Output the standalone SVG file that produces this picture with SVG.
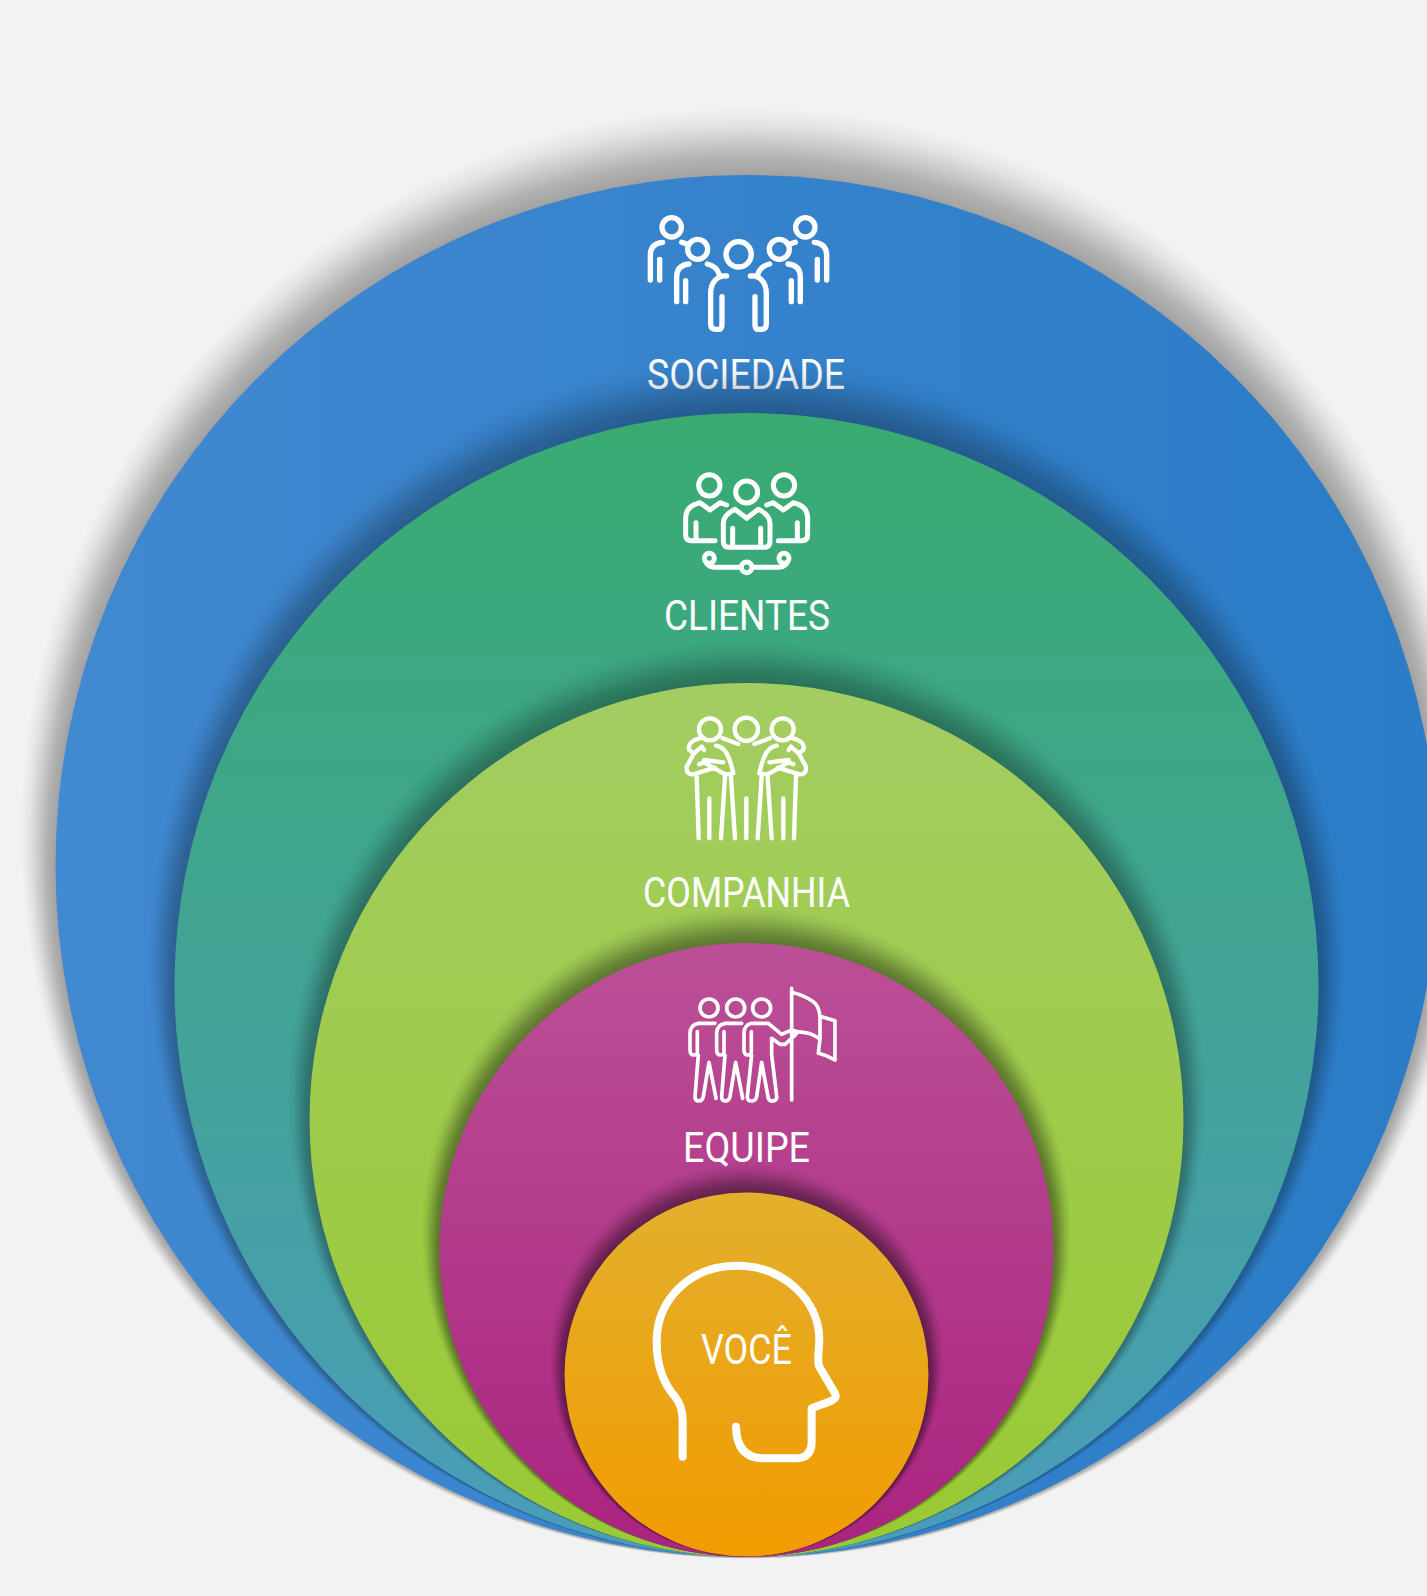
<svg xmlns="http://www.w3.org/2000/svg" width="1427" height="1596" viewBox="0 0 1427 1596">
<style>
.i{fill:none;stroke:#fff;stroke-linecap:round;stroke-linejoin:round}
.t{fill:#fff;font-family:"Roboto","Liberation Sans",sans-serif;font-size:43px;font-weight:400}
.s0{stop-color:#000;stop-opacity:1}
.s1{stop-color:#000;stop-opacity:.8}
.s2{stop-color:#000;stop-opacity:.48}
.s3{stop-color:#000;stop-opacity:.18}
.s4{stop-color:#000;stop-opacity:0}
</style>
<defs>
<linearGradient id="gb" x1="0" x2="1" y1="0" y2="0"><stop offset="0" stop-color="#4189d1"/><stop offset="1" stop-color="#2a7cc7"/></linearGradient>
<linearGradient id="gg" x1="0" x2="0" y1="0" y2="1"><stop offset="0" stop-color="#39ab71"/><stop offset="1" stop-color="#4a9cba"/></linearGradient>
<linearGradient id="gl" x1="0" x2="0" y1="0" y2="1"><stop offset="0" stop-color="#a3cd62"/><stop offset="1" stop-color="#99ca33"/></linearGradient>
<linearGradient id="gm" x1="0" x2="0" y1="0" y2="1"><stop offset="0" stop-color="#bb5096"/><stop offset="1" stop-color="#aa2380"/></linearGradient>
<linearGradient id="go" x1="0" x2="0" y1="0" y2="1"><stop offset="0" stop-color="#e3b02d"/><stop offset="1" stop-color="#f19b00"/></linearGradient>
<radialGradient id="sh1" gradientUnits="userSpaceOnUse" cx="746.500" cy="833" r="726" fx="746.500" fy="866" fr="691"><stop offset="0" class="s0"/><stop offset=".25" class="s1"/><stop offset=".5" class="s2"/><stop offset=".75" class="s3"/><stop offset="1" class="s4"/></radialGradient>
<radialGradient id="sh2" gradientUnits="userSpaceOnUse" cx="746.500" cy="958" r="599" fx="746.500" fy="985" fr="572"><stop offset="0" class="s0"/><stop offset=".25" class="s1"/><stop offset=".5" class="s2"/><stop offset=".75" class="s3"/><stop offset="1" class="s4"/></radialGradient>
<radialGradient id="sh3" gradientUnits="userSpaceOnUse" cx="746.500" cy="1098" r="459" fx="746.500" fy="1120" fr="437"><stop offset="0" class="s0"/><stop offset=".25" class="s1"/><stop offset=".5" class="s2"/><stop offset=".75" class="s3"/><stop offset="1" class="s4"/></radialGradient>
<radialGradient id="sh4" gradientUnits="userSpaceOnUse" cx="746.500" cy="1232" r="325" fx="746.500" fy="1250" fr="307"><stop offset="0" class="s0"/><stop offset=".25" class="s1"/><stop offset=".5" class="s2"/><stop offset=".75" class="s3"/><stop offset="1" class="s4"/></radialGradient>
<radialGradient id="sh5" gradientUnits="userSpaceOnUse" cx="746.500" cy="1360" r="197" fx="746.500" fy="1374.500" fr="182"><stop offset="0" class="s0"/><stop offset=".25" class="s1"/><stop offset=".5" class="s2"/><stop offset=".75" class="s3"/><stop offset="1" class="s4"/></radialGradient>
<g id="p1"><circle cx="155" cy="82" r="29"/><path d="M128,127C100,130 91,145 91,165L91,240M119,178L119,240"/><circle cx="233" cy="148" r="30"/><path d="M185,127L207,134M207,192C180,195 170,210 170,230L170,305M197,242L197,305M262,192C282,197 293,208 297,222M320,228C290,225 272,250 272,280L272,372Q272,388 288,388L300,388Q306,385 306,372L306,290"/></g>
<g id="p2"><circle cx="148" cy="76" r="32"/><path d="M200,135L180,128L150,150L120,128L105,133Q77,145 77,175L77,225Q77,242 95,242L165,242M108,188L108,240"/><circle cx="148" cy="295" r="15"/><path d="M140,310Q150,322 165,322L240,322"/></g>
<g id="p3"><circle cx="240" cy="73" r="33"/><path d="M325,117L278,100M210,100C185,105 172,120 178,135L192,145L170,185Q168,210 190,208L255,188M258,122C285,127 298,150 310,205L285,208L222,172L208,178M222,165L280,172M192,145L215,125L222,135M200,215L206,400M238,280L238,400M285,215L273,400M303,215L315,400"/></g>
<g id="p4"><circle cx="117" cy="99" r="27"/><path d="M135,145L85,145Q60,150 60,175L60,225Q60,240 72,240Q82,240 82,230L82,170M85,240L75,365Q75,378 87,378Q97,378 100,365L117,262L138,370"/></g>
</defs>
<rect width="1427" height="1596" fill="#f2f2f2"/>
<g id="sociedade">
<circle cx="746.500" cy="833" r="726" fill="url(#sh1)" opacity=".33"/>
<circle cx="746.500" cy="866" r="691" fill="url(#gb)"/>
<g class="i" stroke-width="16" transform="translate(620 200) scale(.3333)"><use href="#p1"/><use href="#p1" transform="translate(711 0) scale(-1 1)"/><circle cx="356" cy="163" r="38"/></g>
<text class="t" x="647" y="389" textLength="198" lengthAdjust="spacingAndGlyphs">SOCIEDADE</text>
</g>
<g id="clientes">
<circle cx="746.500" cy="958" r="599" fill="url(#sh2)" opacity=".3"/>
<circle cx="746.500" cy="985" r="572" fill="url(#gg)"/>
<g class="i" stroke-width="15" transform="translate(660 460) scale(.3333)"><use href="#p2"/><use href="#p2" transform="translate(520 0) scale(-1 1)"/><circle cx="260" cy="96" r="33"/><path d="M260,175L225,148Q190,165 190,190L190,245Q190,262 210,262L310,262Q330,262 330,245L330,190Q330,165 295,148ZM218,205L218,258M302,205L302,258"/><circle cx="260" cy="322" r="16"/></g>
<text class="t" x="664" y="630" textLength="166" lengthAdjust="spacingAndGlyphs">CLIENTES</text>
</g>
<g id="companhia">
<circle cx="746.500" cy="1098" r="459" fill="url(#sh3)" opacity=".32"/>
<circle cx="746.500" cy="1120" r="437" fill="url(#gl)"/>
<g class="i" stroke-width="13" transform="translate(630 705) scale(.3333)"><use href="#p3"/><use href="#p3" transform="translate(698 0) scale(-1 1)"/><circle cx="349" cy="73" r="35"/><path d="M349,280L349,400"/></g>
<text class="t" x="643" y="907" textLength="207" lengthAdjust="spacingAndGlyphs">COMPANHIA</text>
</g>
<g id="equipe">
<circle cx="746.500" cy="1232" r="325" fill="url(#sh4)" opacity=".42"/>
<circle cx="746.500" cy="1250" r="307" fill="url(#gm)"/>
<g class="i" stroke-width="11" transform="translate(670 975) scale(.3333)"><use href="#p4"/><use href="#p4" transform="translate(80 0)"/><circle cx="275" cy="99" r="27"/><path d="M295,145L245,145Q222,150 222,175L222,225Q222,240 234,240Q244,240 244,230L244,170M245,240L232,365Q232,378 245,378Q257,378 260,365L275,262L295,370Q300,380 310,378Q322,375 320,362L305,240L305,190L330,208L345,208L378,178L365,165L335,178L295,145M365,40L365,375M365,52Q400,60 430,80Q450,95 450,130L450,192Q420,172 400,172Q380,172 365,165M455,125L495,137L495,255Q470,240 445,235L450,192"/></g>
<text class="t" x="683" y="1162" textLength="127" lengthAdjust="spacingAndGlyphs">EQUIPE</text>
</g>
<g id="voce">
<circle cx="746.500" cy="1360" r="197" fill="url(#sh5)" opacity=".45"/>
<circle cx="746.500" cy="1374.500" r="182" fill="url(#go)"/>
<path class="i" stroke-width="24" transform="translate(640 1250) scale(.3333)" d="M128,620L128,510Q128,470 105,440C70,400 50,345 50,275C50,145 155,47 290,47C430,47 538,150 538,270C538,300 530,330 538,350L585,430Q592,445 575,452L515,475L515,575Q515,625 465,625L370,625Q290,625 288,530"/>
<text class="t" x="701" y="1364" textLength="91" lengthAdjust="spacingAndGlyphs">VOCÊ</text>
</g>
</svg>
